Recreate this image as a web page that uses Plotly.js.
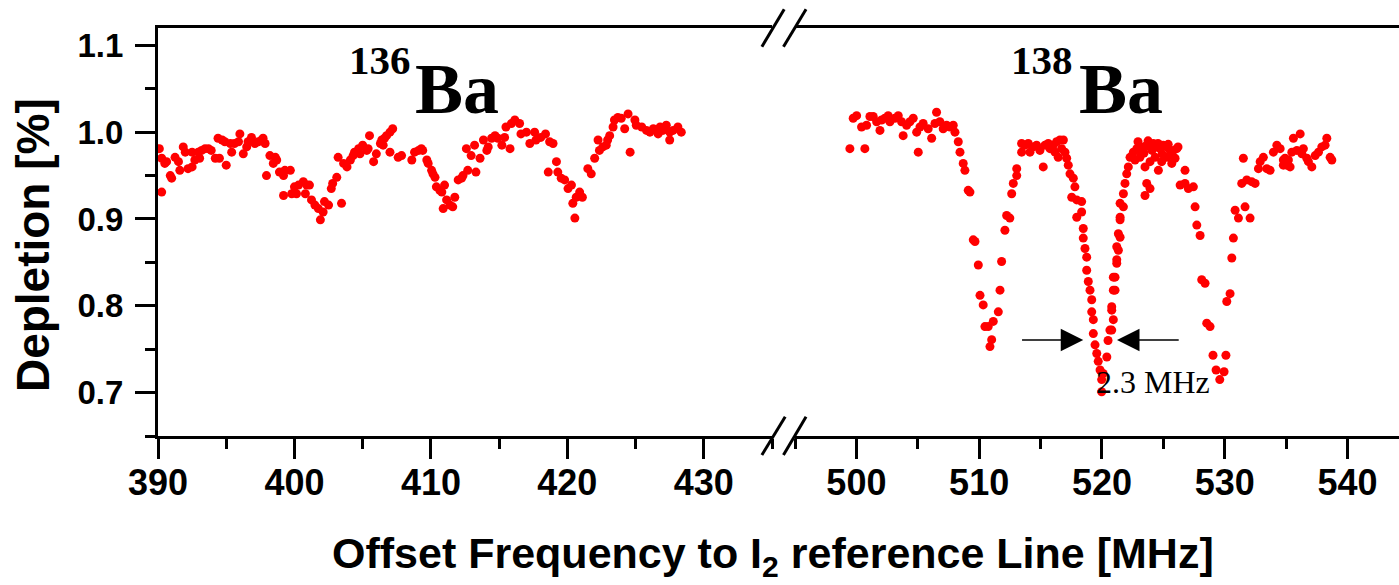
<!DOCTYPE html>
<html><head><meta charset="utf-8">
<script src="https://cdn.plot.ly/plotly-3.0.1.min.js"></script>
<style>html,body{margin:0;padding:0;background:#fff;} #chart{width:1399px;height:585px;}</style>
</head><body><div id="chart"></div>
<script>
// 136Ba scan (left segment)
const freq136 = [390.1,390.27,390.27,390.5,390.63,390.9,391.0,391.25,391.5,391.6,391.85,392.0,392.2,392.5,392.5,392.7,392.95,393.05,393.2,393.45,393.7,393.9,394.2,394.4,394.5,394.7,394.9,395.0,395.3,395.4,395.6,395.9,396.0,396.25,396.5,396.6,396.85,397.1,397.35,397.6,397.7,397.85,397.95,398.2,398.45,398.6,398.7,398.9,399.2,399.2,399.3,399.7,399.8,400.0,400.15,400.3,400.65,400.8,400.9,401.1,401.25,401.5,401.75,401.9,402.1,402.2,402.5,402.7,402.8,403.1,403.2,403.45,403.6,403.85,404.1,404.3,404.4,404.7,404.8,405.0,405.3,405.4,405.5,405.8,406.0,406.3,406.4,406.5,406.6,406.75,407.0,407.0,407.2,407.6,407.85,408.6,408.8,409.1,409.3,409.4,409.7,409.8,410.05,410.15,410.3,410.4,410.65,410.8,410.9,411.0,411.15,411.4,411.6,411.75,412.0,412.25,412.35,412.6,412.7,412.95,413.2,413.3,413.6,413.85,414.1,414.2,414.45,414.7,414.9,415.2,415.4,415.5,415.8,415.9,416.15,416.5,416.6,417.0,417.25,417.6,417.7,418.05,418.4,418.6,418.7,418.95,419.2,419.3,419.55,419.8,420.05,420.3,420.4,420.55,420.65,420.9,421.1,421.5,421.75,422.0,422.25,422.35,422.6,422.85,422.95,423.1,423.35,423.45,423.7,423.95,424.2,424.45,424.6,424.95,425.05,425.45,425.8,426.05,426.3,426.65,426.8,427.0,427.25,427.5,427.5,427.75,428.1,428.35];
const dep136 = [0.981,0.970,0.931,0.964,0.966,0.950,0.947,0.971,0.966,0.956,0.983,0.977,0.958,0.960,0.977,0.968,0.977,0.970,0.979,0.981,0.981,0.979,0.970,0.993,0.970,0.991,0.989,0.962,0.987,0.977,0.987,0.989,0.998,0.975,0.983,0.989,0.994,0.987,0.989,0.991,0.993,0.987,0.950,0.973,0.964,0.971,0.968,0.954,0.950,0.927,0.956,0.956,0.929,0.937,0.929,0.939,0.943,0.929,0.939,0.939,0.922,0.916,0.912,0.899,0.908,0.920,0.916,0.935,0.941,0.948,0.971,0.918,0.964,0.960,0.968,0.973,0.977,0.981,0.975,0.985,0.979,0.981,0.996,0.966,0.975,0.987,0.991,0.985,0.993,0.996,1.000,0.977,1.004,0.971,0.973,0.968,0.977,0.979,0.981,0.979,0.968,0.964,0.956,0.952,0.948,0.937,0.933,0.931,0.912,0.939,0.922,0.916,0.914,0.925,0.945,0.947,0.950,0.981,0.956,0.973,0.985,0.954,0.970,0.991,0.979,0.983,0.993,0.996,0.993,0.985,0.994,1.006,0.981,1.010,1.014,1.010,0.998,1.000,0.987,1.000,0.991,0.994,0.998,0.954,0.989,0.987,0.966,0.954,0.947,0.945,0.935,0.939,0.918,0.901,0.925,0.931,0.925,0.958,0.952,0.970,0.991,0.979,0.983,0.985,0.991,0.996,1.006,1.014,1.017,1.016,1.004,1.021,0.977,1.014,1.008,1.006,1.002,1.000,1.004,0.998,1.006,1.002,1.008,1.000,0.991,1.002,1.006,1.000];

// 138Ba scan (right segment)
const freq138 = [499.47,499.74,500.02,500.42,500.69,500.83,501.1,501.37,501.65,501.92,502.05,502.32,502.59,502.73,503.14,503.41,503.68,503.81,504.09,504.36,504.63,504.91,505.04,505.18,505.44,505.85,506.13,506.4,506.53,506.8,507.07,507.35,507.62,507.89,508.03,508.3,508.44,508.7,508.84,509.11,509.25,509.52,509.66,509.93,510.07,510.33,510.47,510.74,510.88,511.02,511.15,511.56,511.7,511.83,512.1,512.24,512.5,512.65,512.78,513.06,513.06,513.46,513.46,513.73,514.0,514.14,514.41,514.68,514.95,515.22,515.36,515.63,515.77,516.04,516.18,516.31,516.44,516.58,516.72,516.86,516.99,517.13,517.26,517.4,517.54,517.67,517.8,517.95,517.95,518.35,518.35,518.48,518.48,518.62,518.76,518.76,518.89,519.03,519.17,519.17,519.3,519.3,519.44,519.58,519.7,519.85,519.98,519.98,520.1,520.4,520.5,520.65,520.8,520.8,520.8,520.93,520.93,520.93,521.07,521.07,521.21,521.21,521.21,521.34,521.34,521.48,521.48,521.48,521.48,521.75,521.75,521.88,522.02,522.15,522.29,522.56,522.7,522.84,522.94,523.1,523.1,523.37,523.43,523.51,523.51,523.65,523.65,523.76,523.92,523.92,523.92,524.08,524.19,524.33,524.47,524.57,524.6,524.74,524.87,524.9,525.0,525.28,525.28,525.4,525.55,525.69,525.7,525.82,525.96,526.1,526.2,526.37,526.77,526.77,527.04,527.45,527.59,527.73,528.0,528.13,528.4,528.54,528.81,529.05,529.3,529.6,529.95,530.1,530.17,530.44,530.58,530.71,530.85,531.12,531.39,531.52,531.66,531.8,532.07,532.2,532.48,532.75,532.89,533.15,533.43,533.7,533.97,534.25,534.52,534.78,534.78,534.92,535.06,535.19,535.33,535.47,535.6,535.88,536.15,536.29,536.41,536.69,536.82,537.1,537.37,537.64,537.91,538.18,538.32,538.59,538.73];
const dep138 = [0.981,1.016,1.019,1.006,0.981,1.008,1.018,1.018,1.012,1.002,1.014,1.016,1.019,1.012,1.016,1.019,1.012,0.996,1.008,1.012,1.016,1.000,0.977,1.006,1.010,1.004,0.993,1.010,1.023,1.012,1.004,1.008,1.006,1.008,1.000,0.989,0.977,0.964,0.956,0.933,0.931,0.876,0.874,0.847,0.812,0.801,0.776,0.776,0.753,0.761,0.782,0.793,0.818,0.851,0.887,0.904,0.901,0.929,0.941,0.950,0.958,0.987,0.977,0.985,0.987,0.977,0.983,0.985,0.979,0.960,0.985,0.987,0.981,0.985,0.977,0.989,0.971,0.991,0.981,0.991,0.977,0.970,0.962,0.952,0.925,0.947,0.937,0.922,0.902,0.920,0.908,0.889,0.878,0.866,0.856,0.841,0.828,0.818,0.807,0.793,0.784,0.768,0.755,0.745,0.736,0.726,0.715,0.701,0.722,0.741,0.760,0.772,0.772,0.795,0.799,0.784,0.818,0.833,0.818,0.833,0.849,0.853,0.868,0.864,0.883,0.879,0.899,0.902,0.918,0.914,0.929,0.941,0.952,0.960,0.971,0.977,0.968,0.981,0.989,0.979,0.971,0.983,0.976,0.960,0.927,0.985,0.941,0.990,0.983,0.966,0.935,0.979,0.987,0.971,0.983,0.987,0.956,0.981,0.966,0.975,0.985,0.983,0.971,0.986,0.979,0.964,0.973,0.979,0.970,0.981,0.983,0.939,0.956,0.941,0.935,0.937,0.914,0.893,0.881,0.830,0.826,0.780,0.776,0.743,0.726,0.715,0.724,0.743,0.805,0.814,0.855,0.878,0.910,0.901,0.941,0.970,0.914,0.945,0.901,0.943,0.941,0.958,0.966,0.971,0.958,0.956,0.977,0.985,0.981,0.962,0.968,0.970,0.962,0.968,0.960,0.977,0.993,0.979,0.998,0.975,0.981,0.970,0.966,0.960,0.973,0.977,0.983,0.985,0.993,0.971,0.968];

const xTicks136 = [390, 400, 410, 420, 430];
const xTicks138 = [500, 510, 520, 530, 540];
const yTicks = [0.7, 0.8, 0.9, 1.0, 1.1];
const massNumbers = ['136', '138'];
const element = 'Ba';
const widthLabel = '2.3 MHz';
const xTitle = 'Offset Frequency to I<sub>2</sub> reference Line [MHz]';
const yTitle = 'Depletion [%]';

const SANS = 'Liberation Sans, Arial, sans-serif';
const SERIF = 'Liberation Serif, Times New Roman, serif';

const marker = {color: '#ff0000', size: 9, line: {width: 0}};
const traces = [
  {x: freq136, y: dep136, type: 'scatter', mode: 'markers', marker: marker, xaxis: 'x', yaxis: 'y', name: '136Ba'},
  {x: freq138, y: dep138, type: 'scatter', mode: 'markers', marker: marker, xaxis: 'x2', yaxis: 'y', name: '138Ba'}
];

function xAxis(domain, range, ticks, minor0) {
  return {
    domain: domain, range: range, anchor: 'y',
    tickmode: 'array', tickvals: ticks, ticktext: ticks.map(String),
    ticks: 'outside', ticklen: 20, tickwidth: 3, tickcolor: '#000',
    minor: {tick0: minor0, dtick: 5, ticks: 'outside', ticklen: 10, tickwidth: 3, tickcolor: '#000', showgrid: false},
    showline: true, linewidth: 3, linecolor: '#000', mirror: true,
    showgrid: false, zeroline: false, fixedrange: true,
    tickfont: {family: SANS, size: 36, color: '#000', weight: 'bold'},
    ticklabelstandoff: -7
  };
}

const slash = (x0, y0, x1, y1) => ({type: 'line', xref: 'paper', yref: 'paper', x0: x0, y0: y0, x1: x1, y1: y1, line: {color: '#000', width: 3}});
const bold = (size, family) => ({family: family, size: size, color: '#000', weight: 'bold'});

const layout = {
  width: 1399, height: 585,
  margin: {l: 158, r: 0, t: 28, b: 149},
  paper_bgcolor: '#fff', plot_bgcolor: '#fff',
  showlegend: false,
  xaxis: xAxis([0, 0.4948], [390, 435], xTicks136, 390),
  xaxis2: xAxis([0.5133, 1], [495, 544.2], xTicks138, 495),
  yaxis: {
    range: [0.65, 1.12], anchor: 'x',
    tickmode: 'array', tickvals: yTicks, ticktext: yTicks.map(v => v.toFixed(1)),
    ticks: 'outside', ticklen: 20, tickwidth: 3, tickcolor: '#000',
    minor: {tick0: 0.65, dtick: 0.05, ticks: 'outside', ticklen: 10, tickwidth: 3, tickcolor: '#000', showgrid: false},
    showline: true, linewidth: 3, linecolor: '#000',
    showgrid: false, zeroline: false, fixedrange: true,
    tickfont: bold(33, SANS),
    ticklabelstandoff: 5
  },
  shapes: [
    slash(0.4866, 0.954, 0.5046, 1.0458),
    slash(0.5040, 0.954, 0.5222, 1.0458),
    slash(0.4866, -0.0466, 0.5054, 0.0473),
    slash(0.5040, -0.0466, 0.5222, 0.0473)
  ],
  annotations: [
    {text: massNumbers[0], xref: 'x', yref: 'y', x: 406.26, y: 1.0836, yanchor: 'middle', showarrow: false, font: bold(41, SERIF)},
    {text: element, xref: 'x', yref: 'y', x: 411.94, y: 1.0497, yanchor: 'middle', showarrow: false, font: bold(72, SERIF)},
    {text: massNumbers[1], xref: 'x2', yref: 'y', x: 515.12, y: 1.0836, yanchor: 'middle', showarrow: false, font: bold(41, SERIF)},
    {text: element, xref: 'x2', yref: 'y', x: 521.56, y: 1.0497, yanchor: 'middle', showarrow: false, font: bold(72, SERIF)},
    {text: widthLabel, xref: 'x2', yref: 'y', x: 524.2, y: 0.712, showarrow: false,
     font: {family: SERIF, size: 32, color: '#000'}},
    {text: ' ', xref: 'x2', yref: 'y', axref: 'x2', ayref: 'y', x: 518.48, y: 0.7605, ax: 513.25, ay: 0.7605,
     showarrow: true, arrowhead: 2, arrowsize: 3, arrowwidth: 1.5, arrowcolor: '#000', standoff: 0, startstandoff: 0},
    {text: ' ', xref: 'x2', yref: 'y', axref: 'x2', ayref: 'y', x: 521.23, y: 0.7605, ax: 526.5, ay: 0.7605,
     showarrow: true, arrowhead: 2, arrowsize: 3, arrowwidth: 1.5, arrowcolor: '#000', standoff: 0, startstandoff: 0},
    {text: xTitle, xref: 'paper', yref: 'paper', x: 0.4956, y: -0.294, yanchor: 'middle', showarrow: false,
     font: bold(43, SANS)},
    {text: yTitle, xref: 'paper', yref: 'paper', x: -0.1007, y: 0.468, xanchor: 'center', yanchor: 'middle',
     textangle: -90, showarrow: false, font: bold(46, SANS)}
  ]
};

Plotly.newPlot('chart', traces, layout, {staticPlot: true, displayModeBar: false});
</script>
</body></html>
